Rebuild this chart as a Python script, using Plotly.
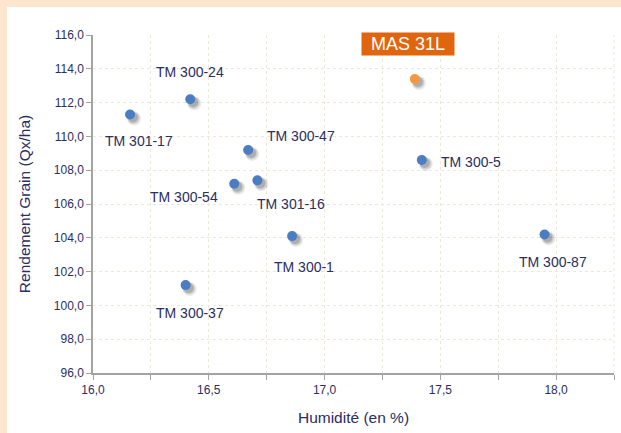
import plotly.graph_objects as go

# ---- data ----
varieties = ["TM 301-17", "TM 300-24", "TM 300-47", "TM 300-54", "TM 301-16",
             "TM 300-1", "TM 300-37", "TM 300-5", "TM 300-87"]
humidite = [16.16, 16.42, 16.67, 16.61, 16.71, 16.86, 16.40, 17.42, 17.95]
rendement = [111.3, 112.2, 109.2, 107.2, 107.4, 104.1, 101.2, 108.6, 104.2]

ref_name = ["MAS 31L"]
ref_humidite = [17.39]
ref_rendement = [113.4]

x_tickvals = [16.0, 16.5, 17.0, 17.5, 18.0]
y_tickvals = [96, 98, 100, 102, 104, 106, 108, 110, 112, 114, 116]

# label offsets in pixels (layout)
LABEL_OFFSETS = {
    "TM 301-17": (9, -27), "TM 300-24": (0, 27), "TM 300-47": (53, 14),
    "TM 300-54": (-50, -13), "TM 301-16": (34, -24), "TM 300-1": (12, -31),
    "TM 300-37": (4, -28), "TM 300-5": (49, -2), "TM 300-87": (8, -28),
}
REF_OFFSET = (-7, 35)

NAVY = "#2B2E60"
FONT = "Liberation Sans, Arial, sans-serif"
PEACH = "#FDE5CF"
GRID = "#EEE8D7"
AXIS = "#A3A3A3"

W, H = 621, 433
ML, MR, MT, MB = 93, 7, 35, 60
PW, PH = W - ML - MR, H - MT - MB
X0, X1 = 16.0, 18.25
Y0, Y1 = 96.0, 116.0
px_x = (X1 - X0) / PW
px_y = (Y1 - Y0) / PH

fig = go.Figure()

all_x = humidite + ref_humidite
all_y = rendement + ref_rendement
# soft drop shadows
for size, alpha, off in [(14, 0.10, 4), (12, 0.16, 3.5), (10, 0.22, 3)]:
    fig.add_trace(go.Scatter(
        x=[v + off * px_x for v in all_x],
        y=[v - off * px_y for v in all_y],
        mode="markers", hoverinfo="skip",
        marker=dict(size=size, color=f"rgba(60,60,60,{alpha})"),
    ))
fig.add_trace(go.Scatter(
    x=humidite, y=rendement, mode="markers", text=varieties,
    marker=dict(size=10, color="#4A7DC2"),
))
fig.add_trace(go.Scatter(
    x=ref_humidite, y=ref_rendement, mode="markers", text=ref_name,
    marker=dict(size=10, color="#F39840"),
))

for name, xv, yv in zip(varieties, humidite, rendement):
    dx, dy = LABEL_OFFSETS[name]
    fig.add_annotation(x=xv, y=yv, text=name, showarrow=False,
                       xshift=dx, yshift=dy,
                       font=dict(family=FONT, size=14, color=NAVY))

for name, xv, yv in zip(ref_name, ref_humidite, ref_rendement):
    fig.add_annotation(x=xv, y=yv, text=name, showarrow=False,
                       xshift=REF_OFFSET[0], yshift=REF_OFFSET[1],
                       bgcolor="#E0650F", width=92, height=22, borderpad=0,
                       font=dict(family=FONT, size=18, color="white"))

# peach frame bands (top and left)
fig.add_shape(type="rect", xref="paper", yref="paper", layer="below",
              x0=-ML / PW, x1=(W - ML) / PW, y0=1 + (MT - 7) / PH, y1=1 + MT / PH,
              fillcolor=PEACH, line_width=0)
fig.add_shape(type="rect", xref="paper", yref="paper", layer="below",
              x0=-ML / PW, x1=-(ML - 7) / PW, y0=-MB / PH, y1=1 + MT / PH,
              fillcolor=PEACH, line_width=0)

grid = dict(showgrid=True, gridcolor=GRID, griddash="dot", gridwidth=1)

fig.update_xaxes(
    range=[X0, X1], tickvals=x_tickvals, tickformat=".1f",
    ticks="outside", ticklen=5, tickcolor=AXIS,
    showline=True, linecolor=AXIS, linewidth=1.5, zeroline=False,
    tickfont=dict(family=FONT, size=12, color=NAVY),
    minor=dict(dtick=0.25, tick0=16, ticks="outside", ticklen=5, tickcolor=AXIS,
               showgrid=True, gridcolor=GRID, griddash="dot"),
    title=dict(text="Humidité (en %)", font=dict(family=FONT, size=15.5, color=NAVY), standoff=16),
    **grid,
)
fig.update_yaxes(
    range=[Y0, Y1], tickvals=y_tickvals, tickformat=".1f",
    ticks="outside", ticklen=5, tickcolor=AXIS,
    showline=True, linecolor=AXIS, linewidth=1.5, zeroline=False,
    tickfont=dict(family=FONT, size=12, color=NAVY),
    title=dict(text="Rendement Grain (Qx/ha)", font=dict(family=FONT, size=15.5, color=NAVY), standoff=19),
    **grid,
)
# right-edge dotted grid line of plot area
fig.add_shape(type="line", xref="paper", yref="paper", x0=1, x1=1, y0=0, y1=1,
              line=dict(color=GRID, width=1, dash="dot"), layer="below")

fig.update_layout(
    width=W, height=H, showlegend=False,
    margin=dict(l=ML, r=MR, t=MT, b=MB),
    paper_bgcolor="white", plot_bgcolor="white",
    separators=", ",
    font=dict(family=FONT, color=NAVY),
)

fig.write_html(
    "out.html",
    config={"displayModeBar": False},
    post_script="document.body.style.margin='0';document.body.style.overflow='hidden';",
)
